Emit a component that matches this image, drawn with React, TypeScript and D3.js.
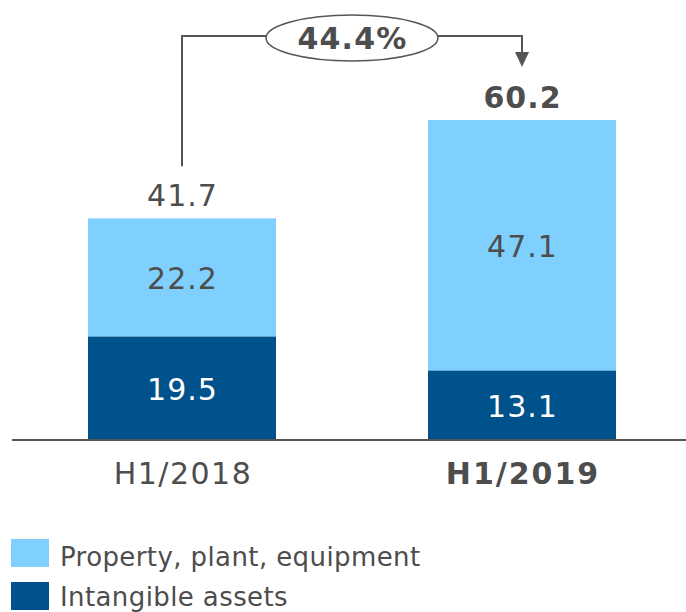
import React from "react";
import * as d3 from "d3";

const categories = ["H1/2018", "H1/2019"];
const intangible = [19.5, 13.1];
const ppe = [22.2, 47.1];
const totals = [41.7, 60.2];
const growthLabel = "44.4%";
const seriesNames = ["Property, plant, equipment", "Intangible assets"];

const W = 686;
const H = 612;
const LIGHT = "#7fcfff";
const DARK = "#00528c";
const TEXT = "#4d4d4d";
const FONT = "'DejaVu Sans', Verdana, sans-serif";

export default function App() {
  const x = d3.scalePoint<string>().domain(categories).range([182, 522]);
  const y = d3.scaleLinear().domain([0, 60.2]).range([440, 120]);
  const barW = 188;

  const stacked = d3.stack<number>().keys(["intangible", "ppe"])
    .value((i: number, key: string) => (key === "intangible" ? intangible[i] : ppe[i]))(
      categories.map((_, i) => i) as any
    );

  const x0 = x(categories[0])!;
  const x1 = x(categories[1])!;
  const topY = 36;
  const ecx = 352, ecy = 38, erx = 86, ery = 23;
  const arrowTip = 67;

  return (
    <svg width={W} height={H} style={{ display: "block", position: "absolute", left: 0, top: 0 }}>
      <rect width={W} height={H} fill="#fff" />
      {stacked.map((layer, li) =>
        layer.map((d, i) => {
          const cx = x(categories[i])!;
          const y0 = y(d[0]);
          const y1 = y(d[1]);
          const val = li === 0 ? intangible[i] : ppe[i];
          return (
            <g key={`${li}-${i}`}>
              <rect x={cx - barW / 2} y={y1} width={barW} height={y0 - y1} fill={li === 0 ? DARK : LIGHT} />
              <text
                x={cx + 0.5}
                y={(y0 + y1) / 2 + 12}
                textAnchor="middle"
                fontFamily={FONT}
                fontSize={30}
                letterSpacing={1}
                fill={li === 0 ? "#fff" : TEXT}
              >
                {val.toFixed(1)}
              </text>
            </g>
          );
        })
      )}
      {totals.map((t, i) => (
        <text
          key={i}
          x={x(categories[i])! + 0.5}
          y={y(t) - 12}
          textAnchor="middle"
          fontFamily={FONT}
          fontSize={30}
          letterSpacing={1}
          fontWeight={i === 1 ? "bold" : "normal"}
          fill={TEXT}
        >
          {t.toFixed(1)}
        </text>
      ))}
      <line x1={12} x2={686} y1={440} y2={440} stroke="#555" strokeWidth={2} />
      {categories.map((c, i) => (
        <text
          key={c}
          x={x(c)! + 1}
          y={484}
          textAnchor="middle"
          fontFamily={FONT}
          fontSize={30}
          letterSpacing={i === 1 ? 2 : 1.5}
          fontWeight={i === 1 ? "bold" : "normal"}
          fill={TEXT}
        >
          {c}
        </text>
      ))}
      {/* growth connector */}
      <path
        d={`M${x0},${y(totals[0]) - 52} V${topY} H${ecx - erx} M${ecx + erx},${topY} H${x1} V${arrowTip - 14}`}
        fill="none"
        stroke="#555"
        strokeWidth={2}
      />
      <path d={`M${x1 - 7},${arrowTip - 15} L${x1 + 7},${arrowTip - 15} L${x1},${arrowTip} Z`} fill="#555" />
      <ellipse cx={ecx} cy={ecy} rx={erx} ry={ery} fill="#fff" stroke="#555" strokeWidth={1.5} />
      <text x={ecx + 0.5} y={ecy + 11} textAnchor="middle" fontFamily={FONT} fontSize={30} letterSpacing={1.2} fontWeight="bold" fill={TEXT}>
        {growthLabel}
      </text>
      {/* legend */}
      {seriesNames.map((n, i) => (
        <g key={n} transform={`translate(11, ${539 + i * 43})`}>
          <rect width={38} height={28} fill={i === 0 ? LIGHT : DARK} />
          <text x={49} y={i === 0 ? 27 : 24} fontFamily={FONT} fontSize={26} letterSpacing={0.4} fill={TEXT}>
            {n}
          </text>
        </g>
      ))}
    </svg>
  );
}
